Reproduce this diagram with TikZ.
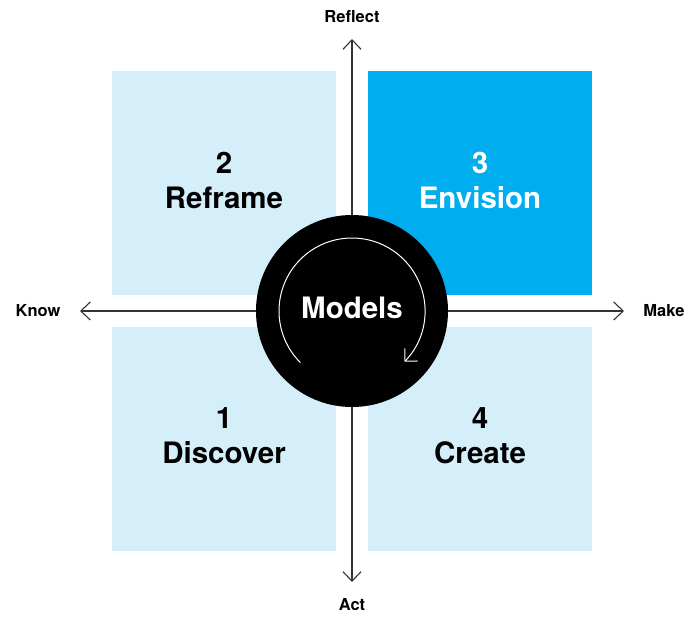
\documentclass[tikz,border=0pt]{standalone}
\usepackage{fontspec}
\setmainfont{TeX Gyre Heros}
\usetikzlibrary{arrows.meta}
\definecolor{paleblue}{HTML}{D4EEFA}
\definecolor{brightblue}{HTML}{00AEEF}
\definecolor{axisgray}{HTML}{333333}
\begin{document}
\begin{tikzpicture}[x=1pt,y=-1pt,
  quad/.style={minimum width=224pt,minimum height=224pt,inner sep=0pt,draw=none},
  quadtext/.style={font=\fontsize{29.5}{35}\selectfont\bfseries,align=center},
  axislabel/.style={font=\fontsize{16.5}{19}\selectfont\bfseries,text=black},
  axis/.style={draw=axisgray,line width=1.1pt,-{Straight Barb[length=9.5pt,width=18pt,line width=1.1pt]}}]
\useasboundingbox (0,0) rectangle (688,616);
% quadrants
\node[quad,fill=paleblue]  (q2) at (224,183) {};
\node[quad,fill=brightblue](q3) at (480,183) {};
\node[quad,fill=paleblue]  (q1) at (224,439) {};
\node[quad,fill=paleblue]  (q4) at (480,439) {};
% axis end points
\coordinate (c) at (352,311);
\coordinate (top) at (352,39);
\coordinate (bot) at (352,582);
\coordinate (lft) at (80,311);
\coordinate (rgt) at (624,311);
\draw[axis] (c) -- (top);
\draw[axis] (c) -- (bot);
\draw[axis] (c) -- (lft);
\draw[axis] (c) -- (rgt);
% axis labels
\node[axislabel] (reflect) at (352,17) {Reflect};
\node[axislabel] (act) at (352,605) {Act};
\node[axislabel] (know) at (38,311) {Know};
\node[axislabel] (make) at (664,311) {Make};
% quadrant labels
\node[quadtext,text=black] (t2) at (224,180) {2\\Reframe};
\node[quadtext,text=white] (t3) at (480,180) {3\\Envision};
\node[quadtext,text=black] (t1) at (224,436) {1\\Discover};
\node[quadtext,text=black] (t4) at (480,436) {4\\Create};
% central circle
\node[circle,fill=black,minimum size=192pt,inner sep=0pt] (models) at (c) {};
\node[quadtext,text=white] (mlabel) at (352,308) {Models};
\draw[white,line width=1pt,-{Straight Barb[length=9pt,width=18pt,line width=1pt]}]
  (c) ++(225:73pt) arc[start angle=225,end angle=-44,radius=73pt];
\end{tikzpicture}
\end{document}
